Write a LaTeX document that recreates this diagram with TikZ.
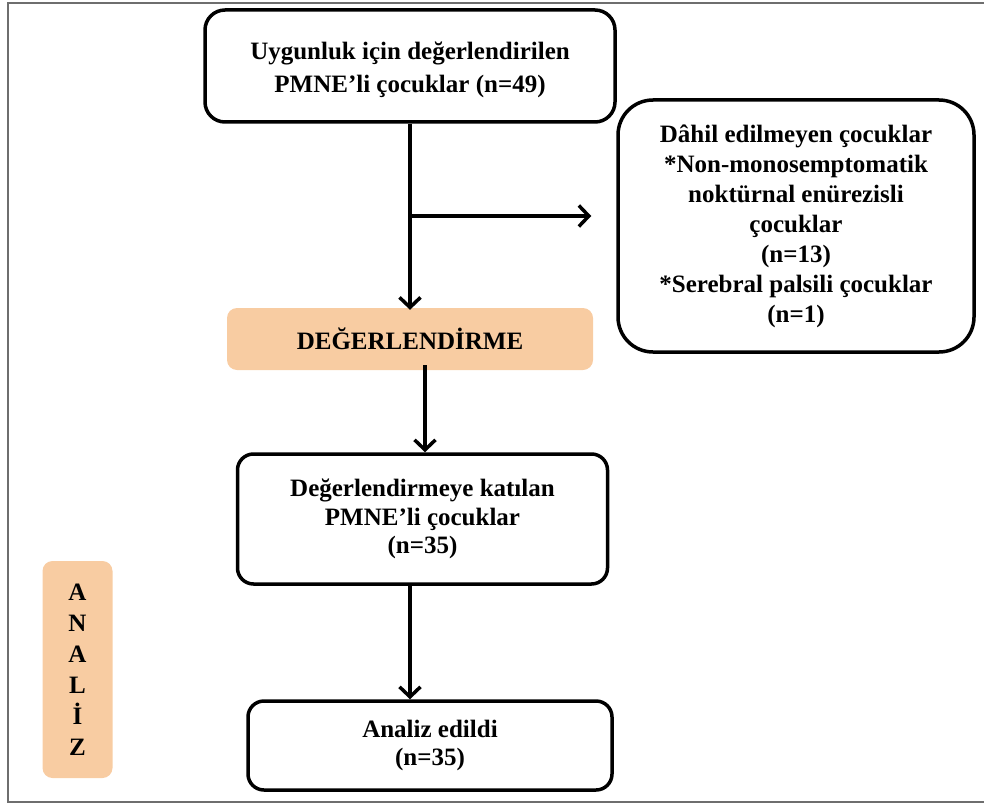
\documentclass[tikz,border=0pt]{standalone}
\usepackage{fontspec}
\setmainfont{Liberation Serif}
\usetikzlibrary{positioning,arrows.meta,calc}
\definecolor{peach}{RGB}{248,204,162}
\definecolor{framegray}{RGB}{110,110,110}

\begin{document}
\begin{tikzpicture}[x=1pt,y=-1pt,
                     flow box/.style={draw=black,line width=3.5pt,fill=white,align=center,
                                      inner sep=0pt,font=\fontsize{25}{28.5}\selectfont\bfseries},
                     stage box/.style={fill=peach,rounded corners=10pt,inner sep=0pt,align=center,
                                       font=\fontsize{25}{31}\selectfont\bfseries},
                     flow arrow/.style={line width=3.5pt,-{Straight Barb[length=10pt,width=21pt,line width=3.5pt]}}
                    ]
   \useasboundingbox (0,0) rectangle (984,805);
   \draw[framegray,line width=2pt] (8,3) rectangle (1000,802);
   \node[flow box,rounded corners=20pt,minimum width=410pt,minimum height=112pt,
         font=\fontsize{25}{33}\selectfont\bfseries] (elig) at (410,66)
        {\rule{0pt}{26pt}Uygunluk için değerlendirilen\\PMNE’li çocuklar (n=49)};
   \node[flow box,rounded corners=35pt,minimum width=356pt,minimum height=252pt,
         font=\fontsize{25}{30}\selectfont\bfseries] (excl) at (796,226)
        {Dâhil edilmeyen çocuklar\\*Non-monosemptomatik\\noktürnal enürezisli\\çocuklar\\(n=13)\\*Serebral palsili çocuklar\\(n=1)};
   \node[stage box,minimum width=366pt,minimum height=62pt] (eval) at (410,339) {DEĞERLENDİRME};
   \node[flow box,rounded corners=16pt,minimum width=370pt,minimum height=130pt] (part) at (422.5,519)
        {Değerlendirmeye katılan\\PMNE’li çocuklar\\(n=35)};
   \node[flow box,rounded corners=16pt,minimum width=364pt,minimum height=89pt] (anal) at (430,745.5)
        {Analiz edildi\\(n=35)};
   \node[stage box,minimum width=70pt,minimum height=217pt] (stage) at (77.5,669.5)
        {A\\N\\A\\L\\İ\\Z};
   % connectors
   \coordinate (split) at (elig.south |- 0,216);
   \draw[flow arrow] (elig.south) -- ([yshift=-2pt]elig.south |- eval.north);
   \draw[flow arrow] (split) -- ([xshift=-25pt]split -| excl.west);
   \draw[flow arrow] ([xshift=15pt,yshift=5pt]eval.south) -- ([xshift=15pt]eval.south |- part.north);
   \draw[flow arrow] ([xshift=-12.5pt]part.south) -- ([xshift=-12.5pt]part.south |- anal.north);
 \end{tikzpicture}
\end{document}
